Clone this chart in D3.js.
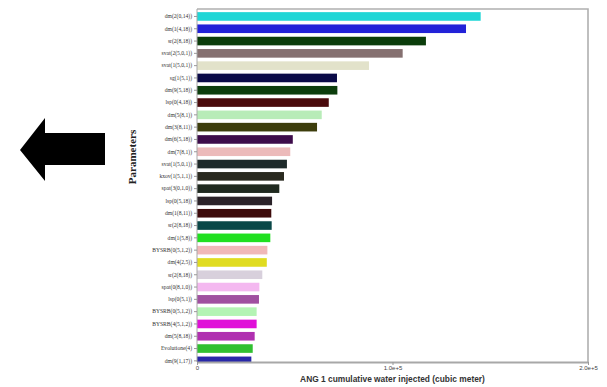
<!DOCTYPE html>
<html>
<head>
<meta charset="utf-8">
<script src="https://cdn.jsdelivr.net/npm/d3@7/dist/d3.min.js"></script>
<style>
  html, body { margin: 0; padding: 0; background: #fff; }
  svg { display: block; }
</style>
</head>
<body>
<svg id="chart" width="607" height="387"></svg>
<script>
// Parameter names, top to bottom
const parameters = [
  "dm(2(0,14))", "dm(1(4,18))", "sr(2(8,18))", "svat(2(5,0,1))", "svat(1(5,0,1))",
  "sg(1(5,1))", "dm(9(5,18))", "lsp(0(4,18))", "dm(5(8,1))", "dm(3(8,11))",
  "dm(6(5,18))", "dm(7(8,1))", "svat(1(5,0,1))", "kxov(1(5,1,1))", "spat(3(0,1,0))",
  "lsp(0(5,18))", "dm(1(8,11))", "sr(2(8,18))", "dm(1(5,8))", "BYSRB(0(5,1,2))",
  "dm(4(2,5))", "sr(2(8,18))", "spat(0(8,1,0))", "lsp(0(5,1))", "BYSRB(0(5,1,2))",
  "BYSRB(4(5,1,2))", "dm(5(8,18))", "Evolutione(4)", "dm(9(1,17))"
];

// Cumulative water injected (cubic meter)
const injected = [
  145100, 137600, 117100, 105200, 88000,
  71600, 71800, 67400, 63800, 61400,
  49000, 47700, 46000, 44500, 42100,
  38400, 38000, 38200, 37500, 36000,
  35700, 33400, 31900, 31700, 30500,
  30500, 29500, 28500, 27800
];

const barColors = [
  "#1fd6d6", "#2222d8", "#0b3d0b", "#857070", "#e2e2ca",
  "#0a0a48", "#0c3d0c", "#4a0a0c", "#b8ecb8", "#3d3d0c",
  "#3d0c4a", "#ecbaba", "#1e2a2a", "#2a2a20", "#202a20",
  "#2a2228", "#3d0a0a", "#0a4848", "#20e020", "#f0b8b8",
  "#e0dc20", "#d8d0dc", "#f4b8f0", "#a050a0", "#b4f4b4",
  "#e010d8", "#b030b0", "#30c030", "#2828a8"
];

const xTicks = [0, 100000, 200000];
const xTickLabels = ["0", "1.0e+5", "2.0e+5"];

const svg = d3.select("#chart");
const plot = { left: 197, right: 588, top: 9, bottom: 362 };

const x = d3.scaleLinear().domain([0, 200000]).range([plot.left, plot.right]);
const y = d3.scaleBand().domain(d3.range(parameters.length))
  .range([10.3, 367]).paddingInner(0.3).paddingOuter(0.15);

svg.append("defs").append("clipPath").attr("id", "plotclip")
  .append("rect")
  .attr("x", plot.left).attr("y", plot.top)
  .attr("width", plot.right - plot.left).attr("height", plot.bottom - plot.top);

// Bars
svg.append("g").attr("clip-path", "url(#plotclip)")
  .selectAll("rect").data(injected).enter().append("rect")
  .attr("x", x(0))
  .attr("y", (d, i) => y(i))
  .attr("width", d => x(d) - x(0))
  .attr("height", y.bandwidth())
  .attr("fill", (d, i) => barColors[i]);

// Frame: top and right edges
svg.append("path")
  .attr("d", `M${plot.left},${plot.top}H${plot.right}V${plot.bottom}`)
  .attr("fill", "none").attr("stroke", "#b0b0b0").attr("stroke-width", 1.6);

// X axis
const xAxis = d3.axisBottom(x).tickValues(xTicks)
  .tickFormat((d, i) => xTickLabels[i]).tickSize(3).tickSizeOuter(0);
const gx = svg.append("g").attr("transform", `translate(0,${plot.bottom})`).call(xAxis);
gx.select(".domain").attr("stroke", "#a8a8a8").attr("stroke-width", 1.8);
gx.selectAll(".tick line").attr("stroke", "#999");
gx.selectAll(".tick text").attr("font-family", "Liberation Sans, Arial, sans-serif")
  .attr("font-size", 6).attr("fill", "#444").attr("dy", "0.4em");

// Y axis
const yAxis = d3.axisLeft(y).tickFormat(i => parameters[i]).tickSize(3).tickSizeOuter(0);
const gy = svg.append("g").attr("transform", `translate(${plot.left},0)`).call(yAxis);
gy.select(".domain").attr("stroke", "#a8a8a8").attr("stroke-width", 1)
  .attr("d", `M0,${plot.top}V${plot.bottom}`);
gy.selectAll(".tick line").attr("stroke", "#999");
gy.selectAll(".tick text").attr("font-family", "Liberation Serif, Times New Roman, serif")
  .attr("font-size", 5.6).attr("fill", "#333").attr("x", -5);

// Axis titles
svg.append("text")
  .attr("x", (plot.left + plot.right) / 2).attr("y", 382)
  .attr("text-anchor", "middle")
  .attr("font-family", "Liberation Sans, Arial, sans-serif")
  .attr("font-size", 8.4).attr("font-weight", "bold").attr("fill", "#333")
  .text("ANG 1 cumulative water injected (cubic meter)");

svg.append("text")
  .attr("transform", "translate(136,157) rotate(-90)")
  .attr("text-anchor", "middle")
  .attr("font-family", "Liberation Serif, Times New Roman, serif")
  .attr("font-size", 11).attr("font-weight", "bold").attr("fill", "#222")
  .text("Parameters");

// Left-pointing arrow
svg.append("path")
  .attr("d", "M20,150 L45,118 L45,133 L105,133 L105,165 L45,165 L45,181 Z")
  .attr("fill", "#000");
</script>
</body>
</html>
